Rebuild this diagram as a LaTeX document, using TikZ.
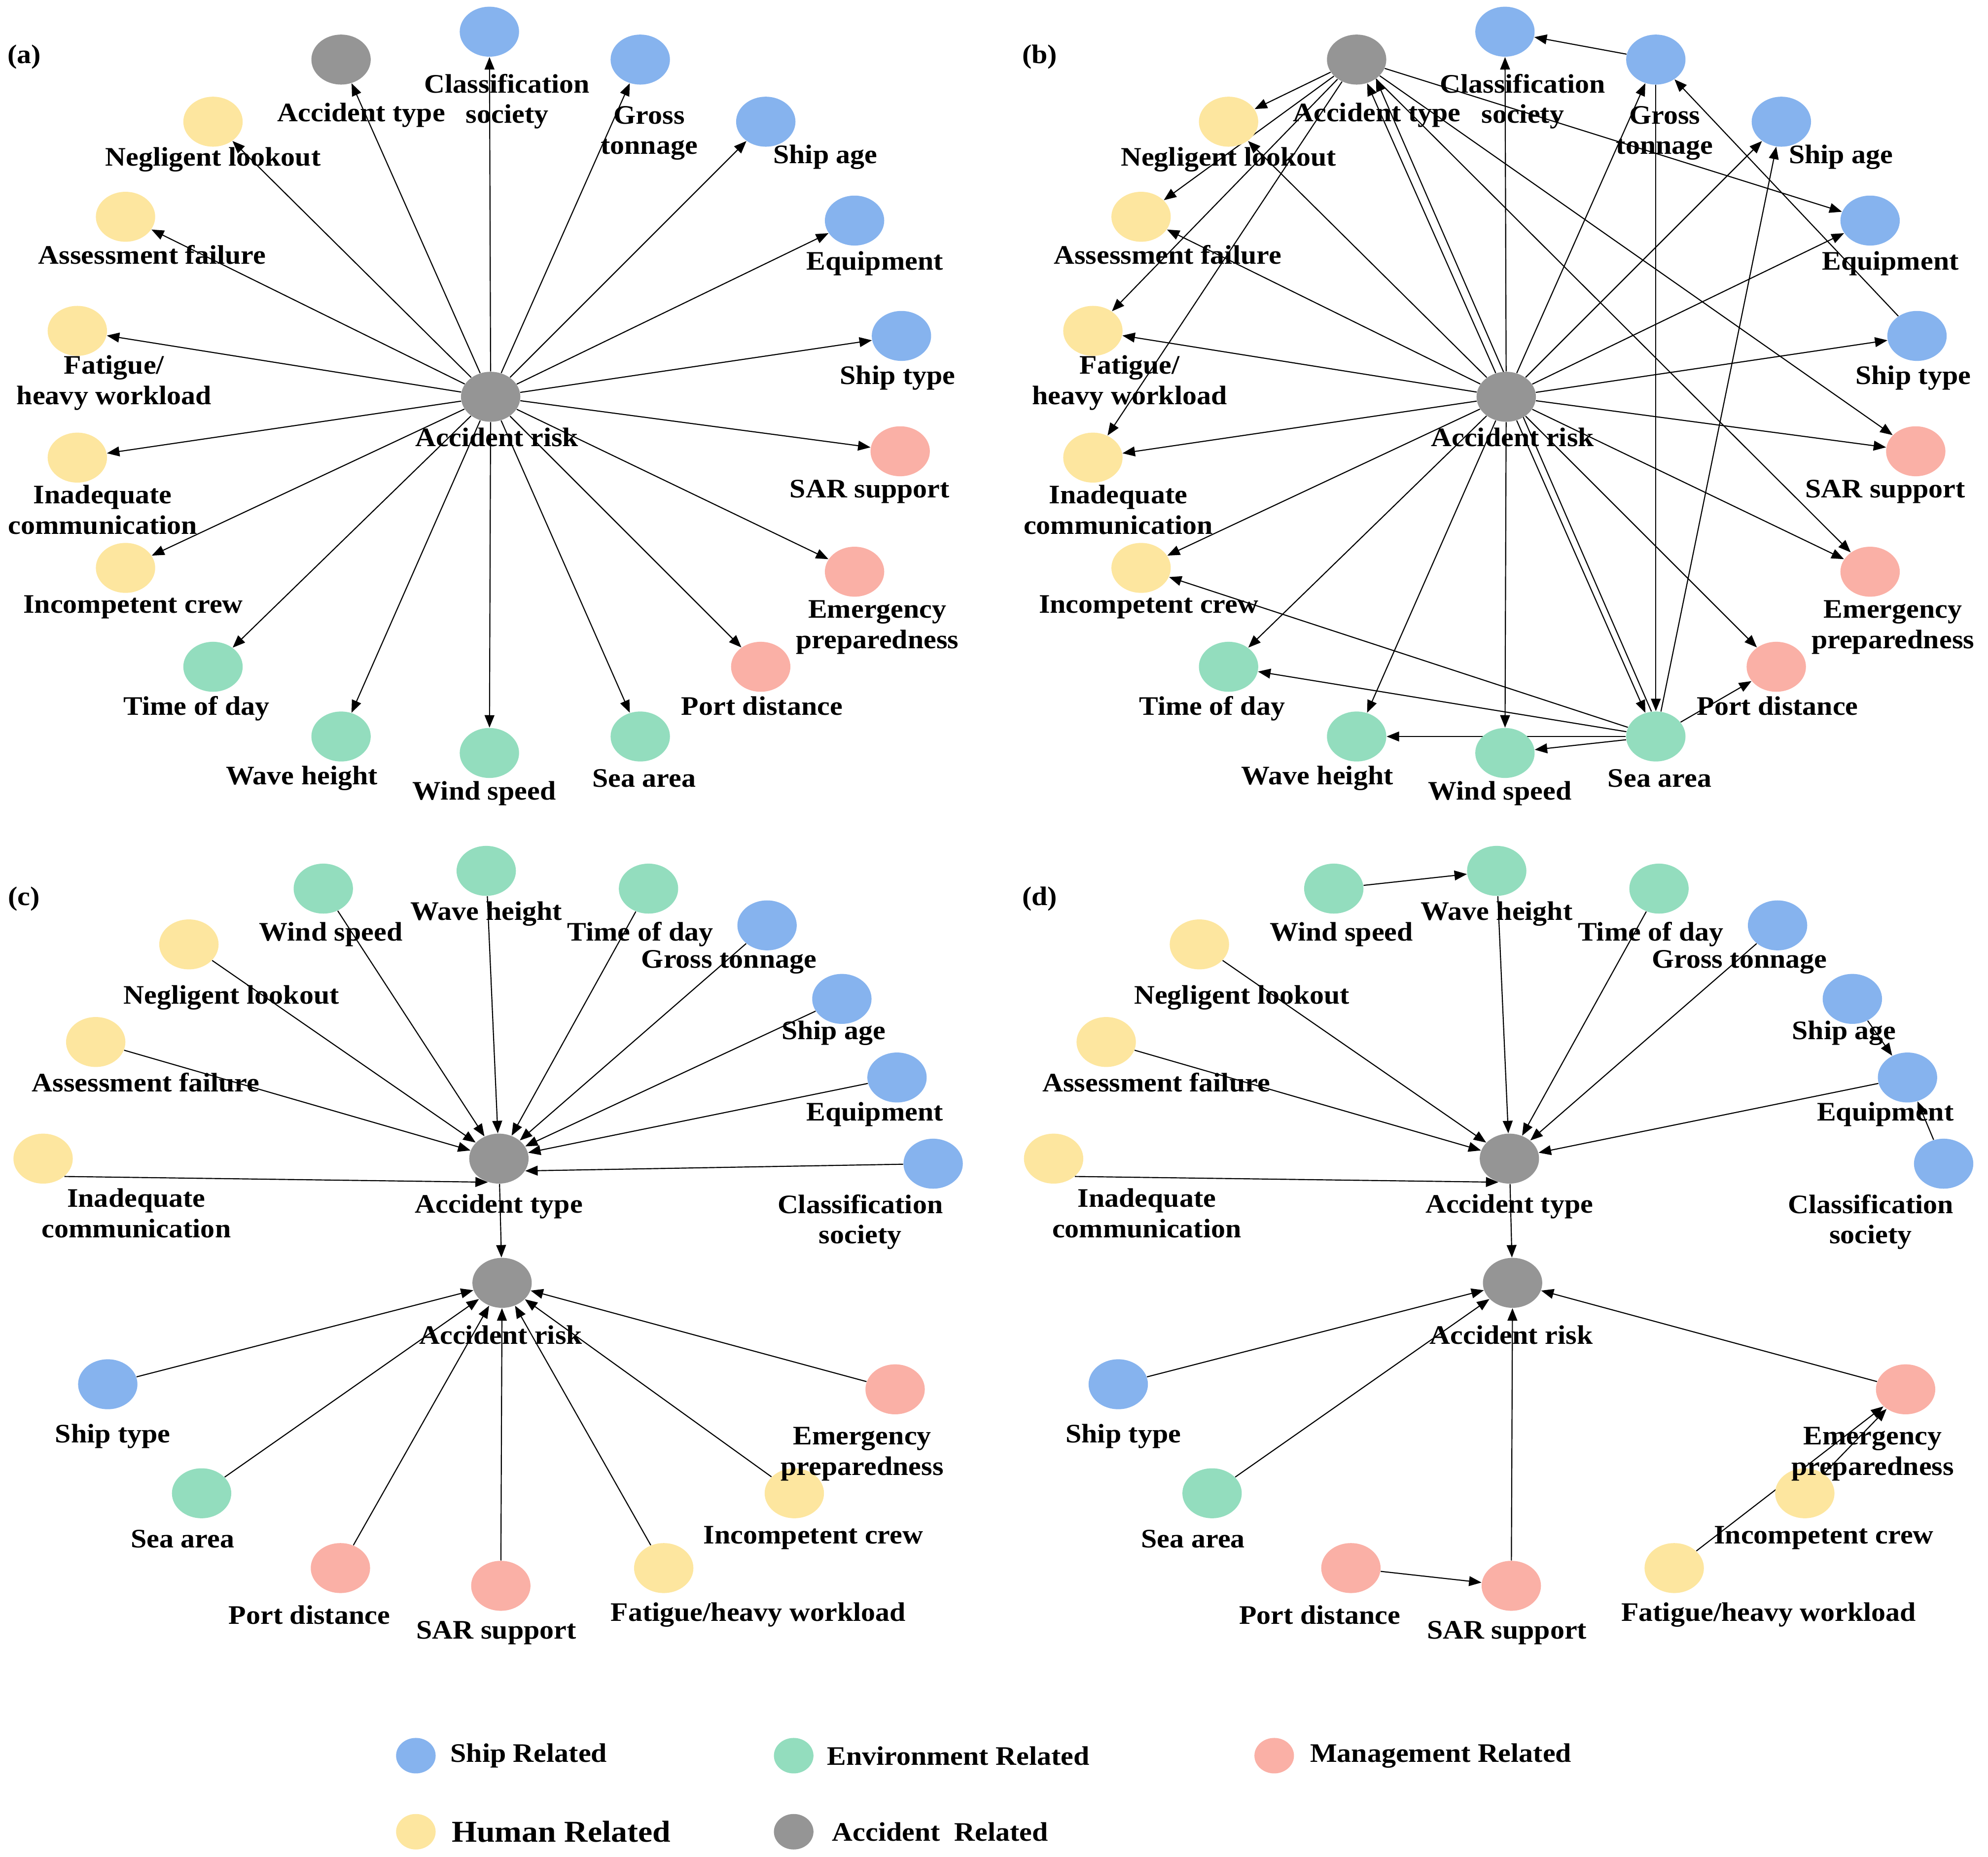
\documentclass[tikz,border=0pt]{standalone}
\usepackage{fontspec}
\setmainfont{Liberation Serif}[FakeStretch=1.07]
\usepackage{tikz}
\usetikzlibrary{arrows.meta}
\usetikzlibrary{shapes.geometric}
\usetikzlibrary{backgrounds}

\definecolor{shipblue}{HTML}{86B3EE}
\definecolor{envgreen}{HTML}{93DDBE}
\definecolor{mgmtpink}{HTML}{FAB0A6}
\definecolor{humanyellow}{HTML}{FDE69F}
\definecolor{accgray}{HTML}{959595}

% circle layout of panels (a) and (b)
\newcommand{\ringpanel}{%
        \node [acc_node](ar) at (387,313) {};
        \node [label_style](ar-t) at (392,345) {Accident risk};
        \node [acc_node](at) at (269,47) {};
        \node [label_style](at-t) at (285,91) {Accident type};
        \node [ship_node](cls) at (386,25) {};
        \node [label_style](cls-t) at (400,80) {Classification\\society};
        \node [ship_node](gt) at (505,47) {};
        \node [label_style](gt-t) at (512,105) {Gross\\tonnage};
        \node [ship_node](age) at (604,96) {};
        \node [label_style](age-t) at (651,124) {Ship age};
        \node [ship_node](eq) at (674,174) {};
        \node [label_style](eq-t) at (690,208) {Equipment};
        \node [ship_node](st) at (711,265) {};
        \node [label_style](st-t) at (708,298) {Ship type};
        \node [mgmt_node](sar) at (710,356) {};
        \node [label_style](sar-t) at (686,388) {SAR support};
        \node [mgmt_node](ep) at (674,451) {};
        \node [label_style](ep-t) at (692,495) {Emergency\\preparedness};
        \node [mgmt_node](pd) at (600,526) {};
        \node [label_style](pd-t) at (601,557) {Port distance};
        \node [env_node](sea) at (505,581) {};
        \node [label_style](sea-t) at (508,614) {Sea area};
        \node [env_node](ws) at (386,594) {};
        \node [label_style](ws-t) at (382,626) {Wind speed};
        \node [env_node](wh) at (269,581) {};
        \node [label_style](wh-t) at (238,614) {Wave height};
        \node [env_node](tod) at (168,526) {};
        \node [label_style](tod-t) at (155,559) {Time of day};
        \node [human_node](ic) at (99,448) {};
        \node [label_style](ic-t) at (105,479) {Incompetent crew};
        \node [human_node](com) at (61,361) {};
        \node [label_style](com-t) at (81,402) {Inadequate\\communication};
        \node [human_node](fat) at (61,261) {};
        \node [label_style](fat-t) at (90,302) {Fatigue/\\heavy workload};
        \node [human_node](af) at (99,171) {};
        \node [label_style](af-t) at (120,201) {Assessment failure};
        \node [human_node](nl) at (168,96) {};
        \node [label_style](nl-t) at (168,126) {Negligent lookout};
}

% two-level layout of panels (c) and (d)
\newcommand{\fanpanel}{%
        \node [acc_node](at) at (393.5,914) {};
        \node [label_style](at-t) at (393.5,952) {Accident type};
        \node [acc_node](ar) at (396,1012) {};
        \node [label_style](ar-t) at (395,1053) {Accident risk};
        \node [env_node](ws) at (255,701) {};
        \node [label_style](ws-t) at (261,737) {Wind speed};
        \node [env_node](wh) at (383.5,687) {};
        \node [label_style](wh-t) at (383.5,721) {Wave height};
        \node [env_node](tod) at (511.5,701) {};
        \node [label_style](tod-t) at (505,737) {Time of day};
        \node [ship_node](gt) at (605,730) {};
        \node [label_style](gt-t) at (575,759) {Gross tonnage};
        \node [ship_node](age) at (664,788) {};
        \node [label_style](age-t) at (657.5,815) {Ship age};
        \node [ship_node](eq) at (707.5,850) {};
        \node [label_style](eq-t) at (690,879) {Equipment};
        \node [ship_node](cls) at (736,918) {};
        \node [label_style](cls-t) at (678.5,964) {Classification\\society};
        \node [human_node](nl) at (149,745) {};
        \node [label_style](nl-t) at (182.5,787) {Negligent lookout};
        \node [human_node](af) at (75.5,822) {};
        \node [label_style](af-t) at (115,854) {Assessment failure};
        \node [human_node](com) at (34,914) {};
        \node [label_style](com-t) at (107.5,957) {Inadequate\\communication};
        \node [ship_node](st) at (85,1092) {};
        \node [label_style](st-t) at (89,1133) {Ship type};
        \node [env_node](sea) at (159,1178) {};
        \node [label_style](sea-t) at (144,1214) {Sea area};
        \node [mgmt_node](pd) at (268.5,1237) {};
        \node [label_style](pd-t) at (244,1274) {Port distance};
        \node [mgmt_node](sar) at (395,1251) {};
        \node [label_style](sar-t) at (391.5,1288) {SAR support};
        \node [human_node](fat) at (523.5,1237) {};
        \node [label_style](fat-t) at (598,1274) {Fatigue/heavy workload};
        \node [human_node](ic) at (626.5,1178) {};
        \node [label_style](ic-t) at (641.5,1213) {Incompetent crew};
        \node [mgmt_node](ep) at (706,1096) {};
        \node [label_style](ep-t) at (680,1147) {Emergency\\preparedness};
}

\begin{document}
\begin{tikzpicture}[x=0.025cm, y=-0.025cm,
        base_node/.style={ellipse, inner sep=0pt, minimum width=1.17cm, minimum height=0.985cm},
        ship_node/.style={base_node, fill=shipblue},
        env_node/.style={base_node, fill=envgreen},
        mgmt_node/.style={base_node, fill=mgmtpink},
        human_node/.style={base_node, fill=humanyellow},
        acc_node/.style={base_node, fill=accgray},
        legend_dot/.style={minimum width=0.78cm, minimum height=0.7cm},
        label_style/.style={inner sep=0pt, align=center, font=\fontsize{15}{17.07}\selectfont\bfseries},
        legend_text/.style={label_style, anchor=west},
        edge_style/.style={draw=black, line width=0.6pt, -{Triangle[length=7pt, width=5.5pt]}}]

        \useasboundingbox (0,0) rectangle (1568,1464.6);

        \node [label_style](tag-a) at (19,45) {(a)};
        \node [label_style](tag-b) at (820,45) {(b)};
        \node [label_style](tag-c) at (19,709) {(c)};
        \node [label_style](tag-d) at (820,709) {(d)};

        \begin{scope}[name prefix=a-] \ringpanel \end{scope}
        \begin{scope}[shift={(801,0)}, name prefix=b-] \ringpanel \end{scope}
        \begin{scope}[name prefix=c-] \fanpanel \end{scope}
        \begin{scope}[shift={(797,0)}, name prefix=d-] \fanpanel \end{scope}

        \begin{scope}[on background layer]
        % (a) and (b): accident risk to every factor
        \foreach \p in {a,b}
            \foreach \n in {at,cls,gt,age,eq,st,sar,ep,pd,sea,ws,wh,tod,ic,com,fat,af,nl}
                \draw [edge_style] (\p-ar) edge (\p-\n);
        % (b) extra links
        \foreach \n in {nl,af,fat,com,eq,sar,ep}
            \draw [edge_style] (b-at) edge (b-\n);
        \foreach \n in {age,pd,ws,wh,tod,ic}
            \draw [edge_style] (b-sea) edge (b-\n);
        \draw [edge_style] (b-sea.100) -- (b-at.-45);
        \draw [edge_style] (b-gt) edge (b-cls);
        \draw [edge_style] (b-gt) edge (b-sea);
        \draw [edge_style] (b-st) edge (b-gt);
        % (c)
        \foreach \n in {ws,wh,tod,gt,age,eq,nl,af}
            \draw [edge_style] (c-\n) edge (c-at);
        \draw [edge_style] (c-com.-40) -- (c-at.-115);
        \draw [edge_style] (c-cls) -- (c-at.-25);
        \foreach \n in {at,st,sea,pd,sar,fat,ic,ep}
            \draw [edge_style] (c-\n) edge (c-ar);
        % (d)
        \foreach \n in {wh,tod,gt,eq,nl,af}
            \draw [edge_style] (d-\n) edge (d-at);
        \draw [edge_style] (d-com.-40) -- (d-at.-115);
        \foreach \n in {at,st,sea,sar,ep}
            \draw [edge_style] (d-\n) edge (d-ar);
        \draw [edge_style] (d-ws) edge (d-wh);
        \draw [edge_style] (d-age) edge (d-eq);
        \draw [edge_style] (d-cls) edge (d-eq);
        \draw [edge_style] (d-pd) edge (d-sar);
        \draw [edge_style] (d-fat) edge (d-ep);
        \draw [edge_style] (d-ic) edge (d-ep);
        \end{scope}

        % legend
        \node [ship_node, legend_dot](key-ship) at (328,1385) {};
        \node [legend_text](key-ship-t) at (355,1385) {Ship Related};
        \node [env_node, legend_dot](key-env) at (626,1385) {};
        \node [legend_text](key-env-t) at (652,1385) {Environment Related};
        \node [mgmt_node, legend_dot](key-mgmt) at (1005,1385) {};
        \node [legend_text](key-mgmt-t) at (1033,1385) {Management Related};
        \node [human_node, legend_dot](key-human) at (328,1445) {};
        \node [legend_text, font=\fontsize{17}{19}\selectfont\bfseries](key-human-t) at (356,1445) {Human Related};
        \node [acc_node, legend_dot](key-acc) at (626,1445) {};
        \node [legend_text](key-acc-t) at (656,1445) {Accident\ \ Related};

\end{tikzpicture}
\end{document}
